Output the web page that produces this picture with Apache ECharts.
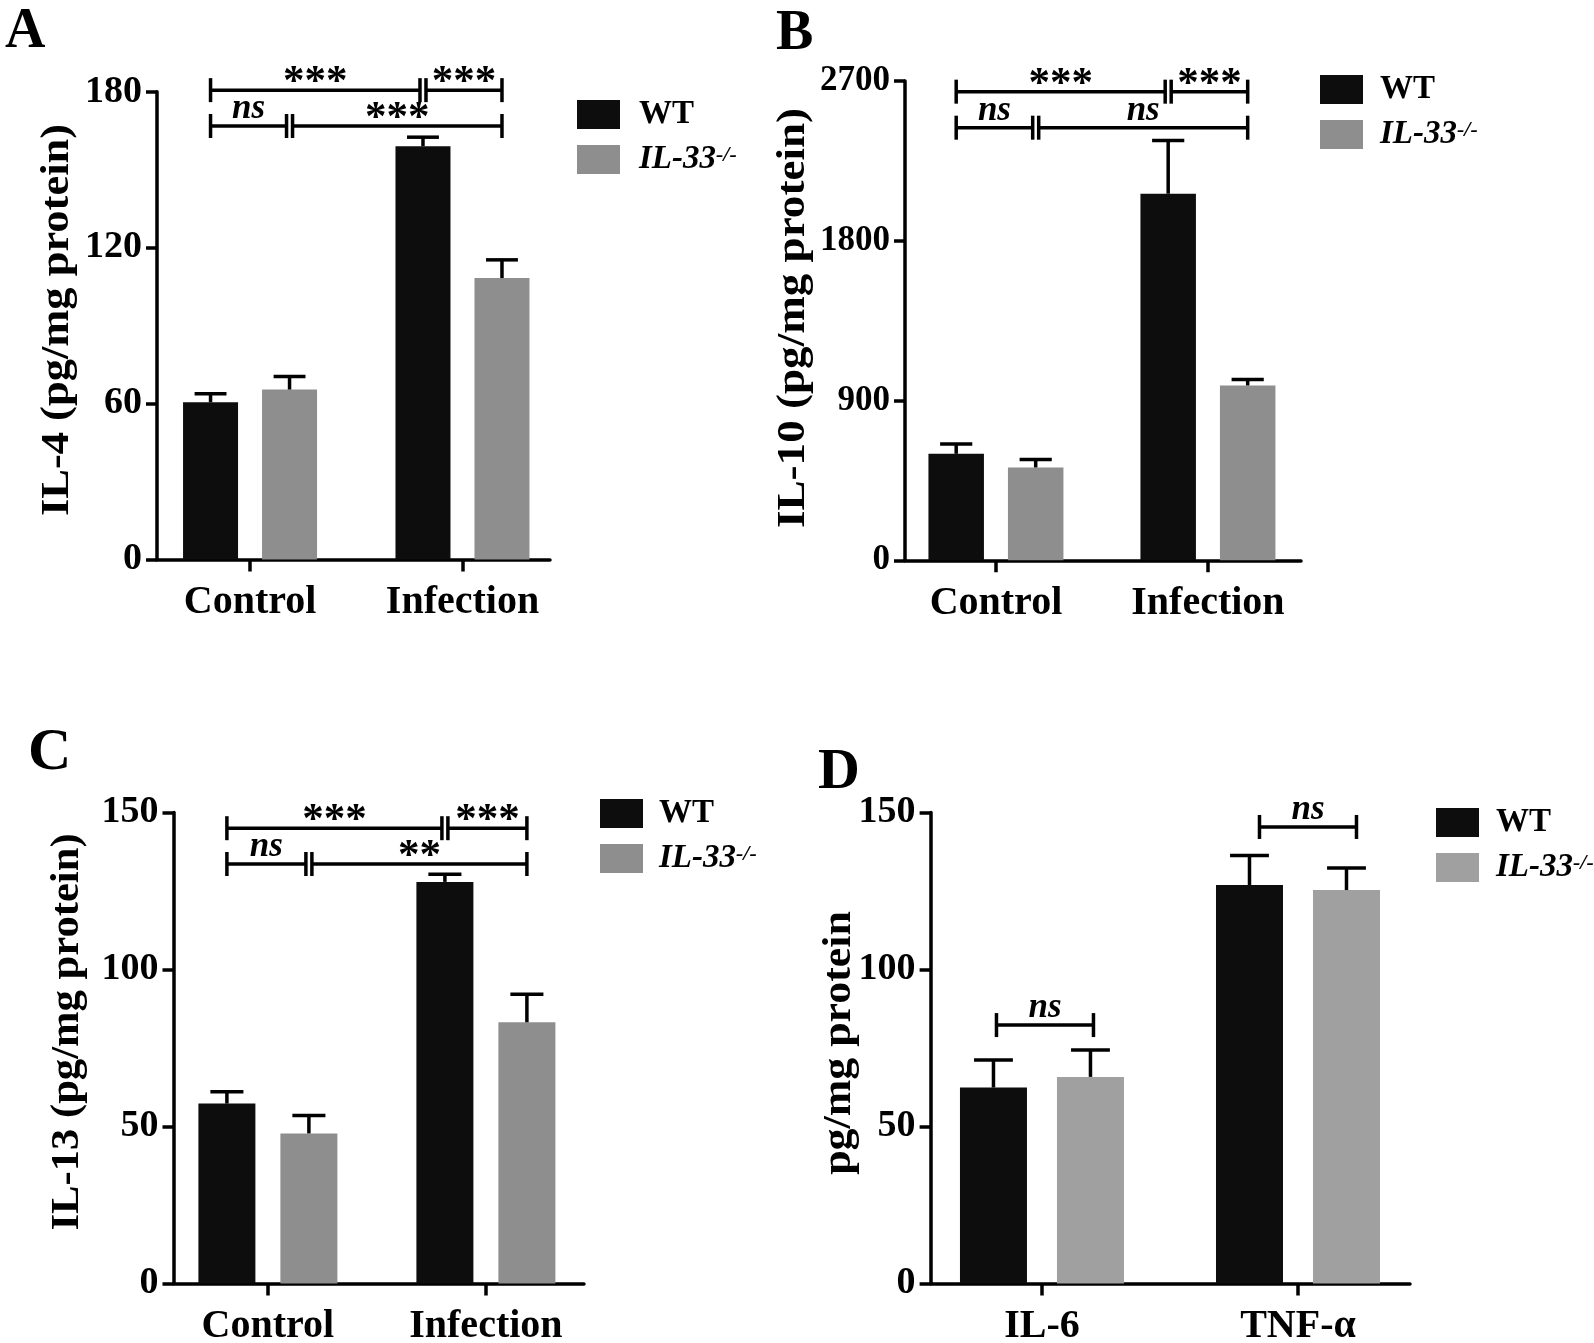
<!DOCTYPE html>
<html>
<head>
<meta charset="utf-8">
<script src="https://cdn.jsdelivr.net/npm/echarts@6/dist/echarts.min.js"></script>
<style>
html,body{margin:0;padding:0;background:#fff;}
#chart{width:1594px;height:1343px;}
</style>
</head>
<body>
<div id="chart"></div>
<script>
// ===== DATA =====
const groupNames = ['WT', 'IL-33'];
const catsInfection = ['Control', 'Infection'];
const catsCytokine = ['IL-6', 'TNF-α'];

// Panel A: IL-4
const il4Ticks = [0, 60, 120, 180];
const il4WT = [60.5, 159.0];
const il4WTErr = [3.3, 3.5];
const il4KO = [65.4, 108.3];
const il4KOErr = [5.0, 7.0];
const il4SigPairs = [[0, 2], [2, 3], [0, 1], [1, 3]];
const il4SigLevels = [180.6, 180.6, 166.8, 166.8];
const il4SigLabels = ['***', '***', 'ns', '***'];

// Panel B: IL-10
const il10Ticks = [0, 900, 1800, 2700];
const il10WT = [600, 2065];
const il10WTErr = [55, 300];
const il10KO = [523, 985];
const il10KOErr = [45, 33];
const il10SigPairs = [[0, 2], [2, 3], [0, 1], [1, 3]];
const il10SigLevels = [2640, 2640, 2437, 2437];
const il10SigLabels = ['***', '***', 'ns', 'ns'];

// Panel C: IL-13
const il13Ticks = [0, 50, 100, 150];
const il13WT = [57.3, 127.9];
const il13WTErr = [3.8, 2.4];
const il13KO = [47.8, 83.2];
const il13KOErr = [5.7, 8.9];
const il13SigPairs = [[0, 2], [2, 3], [0, 1], [1, 3]];
const il13SigLevels = [145.0, 145.0, 133.6, 133.6];
const il13SigLabels = ['***', '***', 'ns', '**'];

// Panel D: IL-6 / TNF-α
const cytTicks = [0, 50, 100, 150];
const cytWT = [62.4, 126.9];
const cytWTErr = [8.8, 9.4];
const cytKO = [65.8, 125.3];
const cytKOErr = [8.6, 7.0];
const cytSigPairs = [[0, 1], [2, 3]];
const cytSigLevels = [82.3, 145.4];
const cytSigLabels = ['ns', 'ns'];

// ===== LAYOUT / STYLE =====
const FONT = '"Liberation Serif", "Times New Roman", serif';
const BLACK = '#0d0d0d';
const LW = 3.5;

const panels = [
  { letter: 'A', title: 'IL-4 (pg/mg protein)', cats: catsInfection, ticks: il4Ticks,
    wt: il4WT, wtErr: il4WTErr, ko: il4KO, koErr: il4KOErr,
    sigPairs: il4SigPairs, sigLevels: il4SigLevels, sigLabels: il4SigLabels, sigShift: [0, 0, 0, 0],
    grid: { left: 157, top: 91.7, width: 393, height: 467.8 }, xMin: -0.438, xMax: 1.412,
    barWidth: 55, gapPx: 24, koColor: '#8e8e8e', tickFont: 38,
    legend: { left: 572, top: 93, textPad: 14 }, letterPos: [5, 33], letterSize: 56,
    titlePos: [57, 320], titleScale: 1.085 },
  { letter: 'B', title: 'IL-10 (pg/mg protein)', cats: catsInfection, ticks: il10Ticks,
    wt: il10WT, wtErr: il10WTErr, ko: il10KO, koErr: il10KOErr,
    sigPairs: il10SigPairs, sigLevels: il10SigLevels, sigLabels: il10SigLabels, sigShift: [0, 0, 0, 0],
    grid: { left: 905, top: 81, width: 396, height: 479.3 }, xMin: -0.429, xMax: 1.439,
    barWidth: 55.5, gapPx: 24, koColor: '#8e8e8e', tickFont: 35,
    legend: { left: 1315, top: 68, textPad: 12 }, letterPos: [776, 35], letterSize: 56,
    titlePos: [793, 318], titleScale: 1.1 },
  { letter: 'C', title: 'IL-13 (pg/mg protein)', cats: catsInfection, ticks: il13Ticks,
    wt: il13WT, wtErr: il13WTErr, ko: il13KO, koErr: il13KOErr,
    sigPairs: il13SigPairs, sigLevels: il13SigLevels, sigLabels: il13SigLabels, sigShift: [0, 0, 0, 0],
    grid: { left: 173.5, top: 812.5, width: 410.5, height: 471 }, xMin: -0.433, xMax: 1.45,
    barWidth: 57, gapPx: 25, koColor: '#8e8e8e', tickFont: 38,
    legend: { left: 595, top: 792, textPad: 11 }, letterPos: [28, 753], letterSize: 60,
    titlePos: [67, 1032], titleScale: 1.04 },
  { letter: 'D', title: 'pg/mg protein', cats: catsCytokine, ticks: cytTicks,
    wt: cytWT, wtErr: cytWTErr, ko: cytKO, koErr: cytKOErr,
    sigPairs: cytSigPairs, sigLevels: cytSigLevels, sigLabels: cytSigLabels, sigShift: [3, 10],
    grid: { left: 930.6, top: 812.5, width: 479.4, height: 471 }, xMin: -0.435, xMax: 1.4375,
    barWidth: 67, gapPx: 30, koColor: '#a0a0a0', tickFont: 38,
    legend: { left: 1431, top: 801, textPad: 12 }, letterPos: [818, 773], letterSize: 58,
    titlePos: [839, 1043], titleScale: 1.07 }
];

const grids = [], xAxes = [], yAxes = [], series = [], legends = [], graphics = [];

panels.forEach((p, i) => {
  grids.push(Object.assign({ outerBoundsMode: 'none', containLabel: false }, p.grid));
  const tickMax = p.ticks[p.ticks.length - 1];
  xAxes.push({
    type: 'value', gridIndex: i, min: p.xMin, max: p.xMax,
    splitLine: { show: false },
    axisLine: { show: true, onZero: false, lineStyle: { color: '#000', width: LW } },
    axisTick: { show: true, customValues: [0, 1], length: 12, lineStyle: { color: '#000', width: LW } },
    axisLabel: { show: true, customValues: [0, 1], margin: 23,
      formatter: v => p.cats[Math.round(v)],
      color: '#000', fontFamily: FONT, fontWeight: 'bold', fontSize: 40 }
  });
  yAxes.push({
    type: 'value', gridIndex: i, min: 0, max: tickMax, interval: p.ticks[1] - p.ticks[0],
    splitLine: { show: false },
    axisLine: { show: true, onZero: false, lineStyle: { color: '#000', width: LW } },
    axisTick: { show: true, length: 11, lineStyle: { color: '#000', width: LW } },
    axisLabel: { margin: 15, color: '#000', fontFamily: FONT, fontWeight: 'bold', fontSize: p.tickFont,
      formatter: v => String(v) }
  });

  const off = (p.barWidth + p.gapPx) / 2;
  const barGap = (p.gapPx / p.barWidth * 100) + '%';
  const groups = [
    { name: groupNames[0], vals: p.wt, errs: p.wtErr, color: BLACK, sign: -1 },
    { name: groupNames[1], vals: p.ko, errs: p.koErr, color: p.koColor, sign: 1 }
  ];
  groups.forEach(g => {
    series.push({
      type: 'bar', name: g.name, xAxisIndex: i, yAxisIndex: i,
      data: g.vals.map((v, j) => [j, v]),
      barWidth: p.barWidth, barGap: barGap,
      itemStyle: { color: g.color, borderWidth: 0 },
      z: 2, silent: true
    });
  });
  groups.forEach(g => {
    series.push({
      type: 'custom', name: g.name + '-err', xAxisIndex: i, yAxisIndex: i,
      data: g.vals.map((v, j) => [j, v, g.errs[j]]),
      encode: { x: 0, y: 1 }, z: 3, silent: true, clip: false,
      renderItem: (params, api) => {
        const x = api.value(0), m = api.value(1), e = api.value(2);
        const p0 = api.coord([x, m]);
        const p1 = api.coord([x, m + e]);
        const cx = p0[0] + g.sign * off;
        const capW = p.barWidth * 0.58;
        return {
          type: 'group', children: [
            { type: 'line', shape: { x1: cx, y1: p0[1], x2: cx, y2: p1[1] }, style: { stroke: '#000', lineWidth: LW } },
            { type: 'line', shape: { x1: cx - capW / 2, y1: p1[1], x2: cx + capW / 2, y2: p1[1] }, style: { stroke: '#000', lineWidth: LW } }
          ]
        };
      }
    });
  });
  // significance brackets
  series.push({
    type: 'custom', name: 'sig' + i, xAxisIndex: i, yAxisIndex: i,
    data: p.sigPairs.map((pr, k) => [pr[0], pr[1], p.sigLevels[k]]),
    encode: { x: 0, y: 2 }, z: 4, silent: true, clip: false,
    renderItem: (params, api) => {
      const k = params.dataIndex;
      const from = api.value(0), to = api.value(1), lvl = api.value(2);
      const shift = p.sigShift[k] || 0;
      const barX = b => api.coord([Math.floor(b / 2), lvl])[0] + (b % 2 === 0 ? -1 : 1) * off + shift;
      const y = api.coord([0, lvl])[1];
      let x1 = barX(from), x2 = barX(to);
      p.sigPairs.forEach((q, n) => {
        if (n === k || p.sigLevels[n] !== p.sigLevels[k]) return;
        if (q[1] === from) x1 += 3;
        if (q[0] === to) x2 -= 3;
      });
      const lbl = p.sigLabels[k];
      const isNs = lbl === 'ns';
      const h = 12;
      return {
        type: 'group', children: [
          { type: 'line', shape: { x1: x1, y1: y, x2: x2, y2: y }, style: { stroke: '#000', lineWidth: LW } },
          { type: 'line', shape: { x1: x1, y1: y - h, x2: x1, y2: y + h }, style: { stroke: '#000', lineWidth: LW } },
          { type: 'line', shape: { x1: x2, y1: y - h, x2: x2, y2: y + h }, style: { stroke: '#000', lineWidth: LW } },
          { type: 'text', style: {
              text: lbl, x: (x1 + x2) / 2, y: isNs ? y - 17 : y - 7,
              align: 'center', verticalAlign: 'middle',
              fontFamily: FONT, fontWeight: 'bold', fontStyle: isNs ? 'italic' : 'normal',
              fontSize: isNs ? 35 : 43, fill: '#000' } }
        ]
      };
    }
  });

  legends.push({
    orient: 'vertical', left: p.legend.left, top: p.legend.top,
    itemWidth: 43, itemHeight: 29, itemGap: 12, icon: 'rect', selectedMode: false,
    data: [
      { name: groupNames[0], itemStyle: { color: BLACK, borderWidth: 0 } },
      { name: groupNames[1], itemStyle: { color: p.koColor, borderWidth: 0 } }
    ],
    formatter: n => n === 'WT' ? '{b|WT}' : '{i|IL-33}{s|-/-}',
    textStyle: {
      padding: [0, 0, 0, p.legend.textPad],
      rich: {
        b: { fontFamily: FONT, fontWeight: 'bold', fontSize: 33, color: '#000', lineHeight: 30 },
        i: { fontFamily: FONT, fontWeight: 'bold', fontStyle: 'italic', fontSize: 33, color: '#000', lineHeight: 30 },
        s: { fontFamily: FONT, fontWeight: 'bold', fontStyle: 'italic', fontSize: 22, color: '#000', lineHeight: 30, verticalAlign: 'top' }
      }
    }
  });

  graphics.push({
    type: 'text', x: p.letterPos[0], y: p.letterPos[1],
    style: { text: p.letter, fontFamily: FONT, fontWeight: 'bold', fontSize: p.letterSize, fill: '#000',
      align: 'left', verticalAlign: 'middle', textAlign: 'left', textVerticalAlign: 'middle' }
  });
  graphics.push({
    type: 'text', x: p.titlePos[0], y: p.titlePos[1], rotation: Math.PI / 2, scaleX: p.titleScale,
    style: { text: p.title, fontFamily: FONT, fontWeight: 'bold', fontSize: 41, fill: '#000',
      align: 'center', verticalAlign: 'middle', textAlign: 'center', textVerticalAlign: 'middle' }
  });
});

const chart = echarts.init(document.getElementById('chart'), null, { renderer: 'canvas' });
chart.setOption({
  backgroundColor: '#ffffff',
  animation: false,
  tooltip: { show: false },
  grid: grids,
  xAxis: xAxes,
  yAxis: yAxes,
  legend: legends,
  series: series,
  graphic: graphics
});
</script>
</body>
</html>
